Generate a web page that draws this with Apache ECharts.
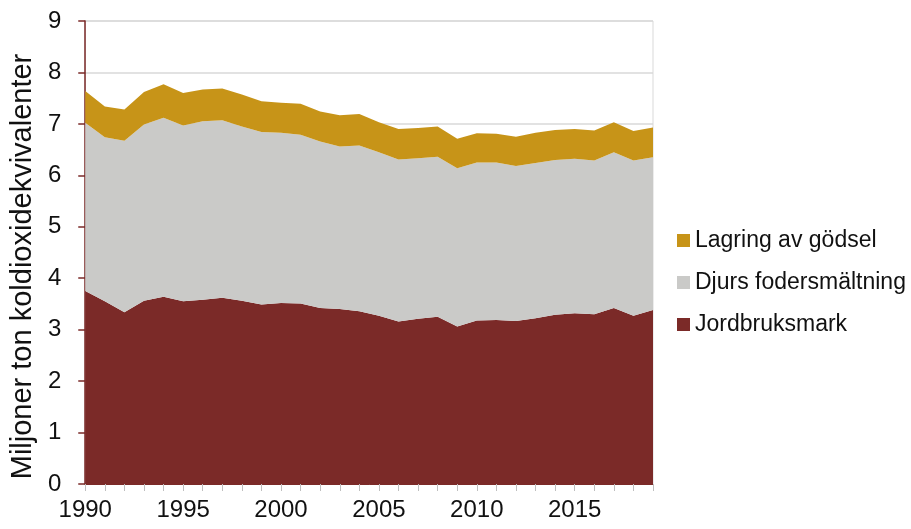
<!DOCTYPE html>
<html>
<head>
<meta charset="utf-8">
<script src="https://cdn.jsdelivr.net/npm/echarts@6/dist/echarts.min.js"></script>
<style>
html,body{margin:0;padding:0;background:#fff;}
#c{width:911px;height:529px;}
</style>
</head>
<body>
<div id="c"></div>
<script>
const years = ['1990','1991','1992','1993','1994','1995','1996','1997','1998','1999','2000','2001','2002','2003','2004','2005','2006','2007','2008','2009','2010','2011','2012','2013','2014','2015','2016','2017','2018','2019'];
const jordbruksmark = [3.75,3.55,3.34,3.56,3.64,3.55,3.58,3.62,3.56,3.49,3.52,3.51,3.42,3.40,3.36,3.27,3.16,3.21,3.25,3.06,3.18,3.19,3.17,3.22,3.29,3.32,3.30,3.42,3.27,3.38];
const djursFodersmaltning = [3.27,3.19,3.33,3.43,3.48,3.42,3.47,3.45,3.39,3.35,3.31,3.28,3.24,3.16,3.22,3.18,3.15,3.12,3.11,3.08,3.07,3.06,3.01,3.02,3.01,3.00,2.99,3.03,3.02,2.97];
const lagringAvGodsel = [0.62,0.60,0.61,0.63,0.65,0.63,0.62,0.62,0.62,0.60,0.58,0.60,0.58,0.61,0.61,0.58,0.59,0.59,0.59,0.57,0.57,0.56,0.57,0.59,0.58,0.58,0.58,0.58,0.57,0.58];
const yTicks = [0,1,2,3,4,5,6,7,8,9];

const font = 'Liberation Sans, Arial, sans-serif';
const chart = echarts.init(document.getElementById('c'), null, {renderer:'canvas'});
function area(name, data, color){
  return {
    name, type:'line', stack:'total', data,
    showSymbol:false, symbol:'none',
    lineStyle:{width:0}, areaStyle:{color, opacity:1},
    itemStyle:{color}, animation:false
  };
}
chart.setOption({
  animation:false,
  grid:{left:82, right:258, top:21, bottom:45, show:true, borderColor:'#d9d9d9', borderWidth:1},
  legend:{
    orient:'vertical', left:672, top:224, icon:'rect', itemWidth:13, itemHeight:13, itemGap:19,
    data:['Lagring av gödsel','Djurs fodersmältning','Jordbruksmark'],
    textStyle:{fontFamily:font, fontSize:23, color:'#111'}
  },
  xAxis:{
    type:'category', data:years, boundaryGap:false,
    axisLine:{lineStyle:{color:'#7b2a28', width:1}},
    axisTick:{show:true, interval:0, length:7, lineStyle:{color:'#bfbfbf'}},
    axisLabel:{interval:4, fontFamily:font, fontSize:24, color:'#111', margin:14},
    splitLine:{show:false}
  },
  yAxis:{
    type:'value', min:yTicks[0], max:yTicks[yTicks.length-1], interval:1,
    name:'Miljoner ton koldioxidekvivalenter', nameLocation:'middle', nameGap:44,
    nameTextStyle:{fontFamily:font, fontSize:29, color:'#111', padding:[0,28,0,0]},
    axisLine:{show:true, lineStyle:{color:'#7b2a28', width:1.5}},
    axisTick:{show:true, length:7, lineStyle:{color:'#7b2a28', width:1.5}},
    axisLabel:{fontFamily:font, fontSize:24, color:'#111', margin:24},
    splitLine:{show:true, lineStyle:{color:'#d9d9d9', width:1.5}}
  },
  series:[
    area('Jordbruksmark', jordbruksmark, '#7b2a28'),
    area('Djurs fodersmältning', djursFodersmaltning, '#cacac8'),
    area('Lagring av gödsel', lagringAvGodsel, '#c79418')
  ]
});
</script>
</body>
</html>
